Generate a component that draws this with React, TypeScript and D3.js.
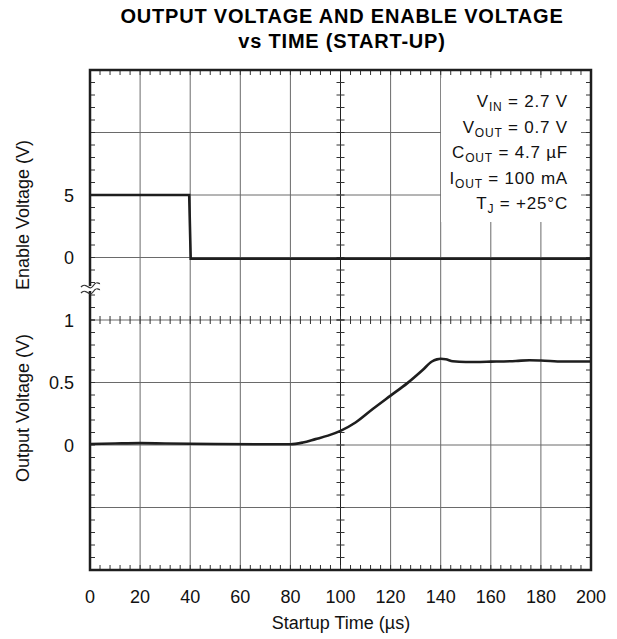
import React from 'react';
import * as d3 from 'd3';

// enable voltage trace (V) vs time (us)
const enableTime = [0, 39.6, 40.2, 200];
const enableVolts = [5, 5, -0.1, -0.1];

// output voltage trace (V) vs time (us)
const outTime = [0, 10, 20, 30, 50, 70, 80, 85, 90, 95, 100, 106, 113, 120, 126.7, 132.8, 136.5, 138.5, 140, 142, 144.8, 150, 160, 170, 175.5, 180, 188.8, 200];
const outVolts = [0.008, 0.012, 0.015, 0.012, 0.008, 0.006, 0.006, 0.02, 0.047, 0.075, 0.113, 0.18, 0.29, 0.395, 0.495, 0.6, 0.668, 0.685, 0.69, 0.686, 0.67, 0.664, 0.667, 0.672, 0.678, 0.676, 0.668, 0.668];

const xTicks = [0, 20, 40, 60, 80, 100, 120, 140, 160, 180, 200];
const enableTickLabels = [0, 5];
const outTickLabels = [0, 0.5, 1];

const legendLines = [
  { main: 'V', sub: 'IN', rest: ' = 2.7 V' },
  { main: 'V', sub: 'OUT', rest: ' = 0.7 V' },
  { main: 'C', sub: 'OUT', rest: ' = 4.7 \u00b5F' },
  { main: 'I', sub: 'OUT', rest: ' = 100 mA' },
  { main: 'T', sub: 'J', rest: ' = +25\u00b0C' },
];

const W = 617;
const H = 639;
const L = 90, R = 591, T = 70, B = 570, MID = 320;

export default function App() {
  const x = d3.scaleLinear().domain([0, 200]).range([L, R]);
  const yTop = d3.scaleLinear().domain([-5, 15]).range([MID, T]);
  const yBot = d3.scaleLinear().domain([-1, 1]).range([B, MID]);

  const enableLine = d3.line<number>()
    .x((d, i) => x(enableTime[i]))
    .y((d) => yTop(d));
  const outLine = d3.line<number>()
    .x((d, i) => x(outTime[i]))
    .y((d) => yBot(d))
    .curve(d3.curveMonotoneX);

  const font = 'Liberation Sans, Arial, sans-serif';
  const gridColor = '#6a6a6a';

  const vGrid = d3.range(20, 200, 20);
  const topGrid = [0, 5, 10];
  const botGrid = [-0.5, 0, 0.5];

  // minor tick positions
  const xMinor = d3.range(0, 201, 4);
  const topMinor = d3.range(-5, 15.01, 1);
  const botMinor = d3.range(-1, 1.001, 0.1);

  const tickLen = 5;
  const ticks: JSX.Element[] = [];
  xMinor.forEach((t, i) => {
    const px = x(t);
    ticks.push(<line key={'tt' + i} x1={px} x2={px} y1={T} y2={T + tickLen} />);
    ticks.push(<line key={'tb' + i} x1={px} x2={px} y1={B} y2={B - tickLen} />);
    ticks.push(<line key={'tm' + i} x1={px} x2={px} y1={MID - 4} y2={MID + 4} />);
  });
  const yPositions = [...topMinor.map((v) => yTop(v)), ...botMinor.map((v) => yBot(v))];
  yPositions.forEach((py, i) => {
    ticks.push(<line key={'yl' + i} x1={L} x2={L + tickLen} y1={py} y2={py} />);
    ticks.push(<line key={'yr' + i} x1={R} x2={R - tickLen} y1={py} y2={py} />);
    ticks.push(<line key={'yc' + i} x1={x(100) - 4} x2={x(100) + 4} y1={py} y2={py} />);
  });

  return (
    <svg width={W} height={H} style={{ position: 'absolute', left: 0, top: 0 }} fontFamily={font}>
      <rect width={W} height={H} fill="#fff" />
      {/* title */}
      <g fontSize={20} fontWeight="bold" textAnchor="middle" letterSpacing={0.8}>
        <text x={342} y={23}>OUTPUT VOLTAGE AND ENABLE VOLTAGE</text>
        <text x={342} y={48}>vs TIME (START-UP)</text>
      </g>

      {/* grid */}
      <g stroke={gridColor} strokeWidth={1}>
        {vGrid.map((t) => (
          <line key={'vg' + t} x1={x(t)} x2={x(t)} y1={T} y2={B} stroke={t === 100 ? '#222' : gridColor} />
        ))}
        {topGrid.map((v) => (
          <line key={'tg' + v} x1={L} x2={R} y1={yTop(v)} y2={yTop(v)} />
        ))}
        <line x1={L} x2={R} y1={MID} y2={MID} />
        {botGrid.map((v) => (
          <line key={'bg' + v} x1={L} x2={R} y1={yBot(v)} y2={yBot(v)} />
        ))}
      </g>

      {/* legend box */}
      <rect x={441} y={78} width={140} height={144} fill="#fff" />

      <g stroke="#333" strokeWidth={1}>{ticks}</g>

      {/* traces */}
      <path d={enableLine(enableVolts) || ''} fill="none" stroke="#1e1e1e" strokeWidth={2.6} />
      <path d={outLine(outVolts) || ''} fill="none" stroke="#1e1e1e" strokeWidth={2.6} />

      {/* frame */}
      <rect x={L} y={T} width={R - L} height={B - T} fill="none" stroke="#1e1e1e" strokeWidth={2.5} />

      {/* axis break */}
      <rect x={L - 3} y={286} width={6} height={5} fill="#fff" />
      <g fill="none" stroke="#333" strokeWidth={1.3}>
        <path d={`M${L - 9},${287} C${L - 4},${281} ${L - 1},${292} ${L + 3},${286} S${L + 8},${284} ${L + 10},${283.5}`} />
        <path d={`M${L - 9},${293} C${L - 4},${287} ${L - 1},${298} ${L + 3},${292} S${L + 8},${290} ${L + 10},${289.5}`} />
      </g>

      {/* legend text */}
      <g fontSize={17} textAnchor="end" fill="#111" letterSpacing={0.8}>
        {legendLines.map((l, i) => (
          <text key={'lg' + i} x={568} y={107 + i * 25.5}>
            {l.main}
            <tspan fontSize={12} dy={4}>{l.sub}</tspan>
            <tspan dy={-4}>{l.rest}</tspan>
          </text>
        ))}
      </g>

      {/* y tick labels */}
      <g fontSize={18} textAnchor="end" fill="#111">
        {enableTickLabels.map((v) => (
          <text key={'el' + v} x={74} y={yTop(v) + 6.5}>{v}</text>
        ))}
        {outTickLabels.map((v) => (
          <text key={'ol' + v} x={74} y={yBot(v) + 6.5}>{v}</text>
        ))}
      </g>

      {/* x tick labels */}
      <g fontSize={18} textAnchor="middle" fill="#111">
        {xTicks.map((t) => (
          <text key={'xl' + t} x={x(t)} y={603}>{t}</text>
        ))}
      </g>

      {/* axis titles */}
      <text x={341} y={629} textAnchor="middle" fontSize={18} fill="#111">{'Startup Time (\u00b5s)'}</text>
      <text transform="translate(29,215) rotate(-90)" textAnchor="middle" fontSize={18} fill="#111">Enable Voltage (V)</text>
      <text transform="translate(29,408) rotate(-90)" textAnchor="middle" fontSize={18} fill="#111">Output Voltage (V)</text>
    </svg>
  );
}
